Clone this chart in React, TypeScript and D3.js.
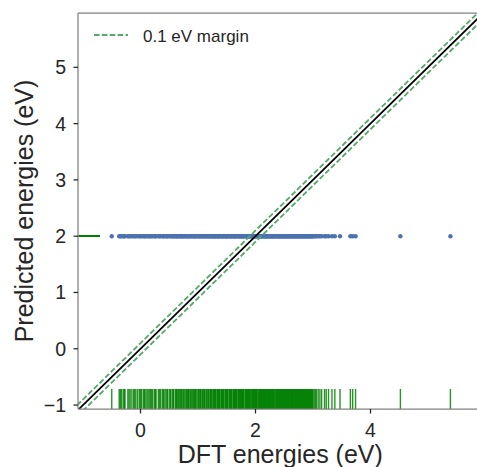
import React from "react";
import * as d3 from "d3";

// DFT energies (eV) read from the rug / scatter
const dftEnergies: number[] = [
  -0.50, -0.37, -0.35, -0.33, -0.30, -0.27, -0.22, -0.20, -0.15, -0.12, -0.08, -0.05, -0.02,
  0.02, 0.05, 0.08, 0.11, 0.15, 0.17, 0.21, 0.24, 0.27, 0.31, 0.35, 0.38, 0.41, 0.44, 0.47,
  0.50, 0.53, 0.56, 0.58, 0.61, 0.63, 0.65, 0.68, 0.70, 0.72, 0.75, 0.77, 0.80, 0.82, 0.84,
  0.87, 0.89, 0.91, 0.94, 0.96, 0.98, 1.01, 1.03, 1.05, 1.08, 1.10, 1.12, 1.15, 1.17, 1.19,
  1.21, 1.23, 1.24, 1.26, 1.28, 1.30, 1.31, 1.33, 1.35, 1.37, 1.38, 1.40, 1.42, 1.44, 1.45,
  1.47, 1.49, 1.51, 1.52, 1.54, 1.56, 1.58, 1.59, 1.61, 1.63, 1.65, 1.66, 1.68, 1.70, 1.72,
  1.73, 1.75, 1.77, 1.79, 1.80, 1.82, 1.84, 1.86, 1.87, 1.89, 1.91, 1.93, 1.94, 1.96, 1.98,
  2.00, 2.01, 2.03, 2.05, 2.07, 2.08, 2.10, 2.12, 2.14, 2.15, 2.17, 2.19, 2.21, 2.22, 2.24,
  2.26, 2.28, 2.29, 2.31, 2.33, 2.35, 2.36, 2.38, 2.40, 2.42, 2.43, 2.45, 2.47, 2.49, 2.50,
  2.52, 2.54, 2.56, 2.57, 2.59, 2.61, 2.63, 2.64, 2.66, 2.68, 2.70, 2.71, 2.73, 2.75, 2.77,
  2.78, 2.80, 2.82, 2.84, 2.85, 2.87, 2.89, 2.91, 2.92, 2.94, 2.96, 2.98, 2.99,
  1.62, 1.74, 1.85, 1.97, 2.09, 2.18, 2.27, 2.39, 2.48, 2.58, 2.69,
  0.62, 0.66, 0.71, 0.74, 0.79, 0.83, 0.86, 0.92, 0.95, 1.00, 1.04, 1.07, 1.11, 1.14, 1.18,
  1.22, 1.27, 1.29, 1.34, 1.36, 1.41, 1.43, 1.48, 1.50, 1.55, 1.57, 1.64, 1.67, 1.71, 1.76,
  1.78, 1.83, 1.88, 1.90, 1.95, 1.99, 2.02, 2.06, 2.11, 2.13, 2.16, 2.20, 2.23, 2.25, 2.30,
  2.32, 2.37, 2.41, 2.44, 2.46, 2.51, 2.53, 2.55, 2.60, 2.62, 2.65, 2.67, 2.72, 2.74, 2.76,
  2.79, 2.81, 2.83, 2.86, 2.88, 2.90, 2.93, 2.95, 2.97, 3.00,
  -0.28, -0.18, -0.10, 0.00, 0.07, 0.13, 0.19, 0.26, 0.33, 0.40, 0.46, 0.52, 0.57,
  3.02, 3.04, 3.06, 3.09, 3.12, 3.15, 3.20, 3.23, 3.27, 3.33, 3.38, 3.47, 3.65, 3.69, 3.74,
  4.52, 5.39,
];

// the model predicts one constant value for every structure
const predictedEnergy = 2;
const marginEV = 0.1;

const xTicks = [0, 2, 4];
const yTicks = [-1, 0, 1, 2, 3, 4, 5];
const xDomain: [number, number] = [-1.087, 5.948];
const yDomain: [number, number] = [-1.07, 5.965];
const legendLabel = "0.1 eV margin";
const xLabel = "DFT energies (eV)";
const yLabel = "Predicted energies (eV)";

const W = 477;
const H = 467;
const plot = { left: 78, right: 482.5, top: 13, bottom: 409 };
const FONT = "'Liberation Sans', Arial, sans-serif";
const TEXT = "#262626";
const GREEN_DASH = "#55a868";
const BLUE = "#4c72b0";

export default function App() {
  const x = d3.scaleLinear().domain(xDomain).range([plot.left, plot.right]);
  const y = d3.scaleLinear().domain(yDomain).range([plot.bottom, plot.top]);

  const lo = Math.min(xDomain[0], yDomain[0]) - 1;
  const hi = Math.max(xDomain[1], yDomain[1]) + 1;
  const line = d3
    .line<[number, number]>()
    .x((d) => x(d[0]))
    .y((d) => y(d[1]));
  const diag = (off: number) => line([[lo, lo + off], [hi, hi + off]]) || "";

  const rugH = 20;
  const rugW = 22;

  return (
    <svg
      width={W}
      height={H}
      style={{ position: "absolute", left: 0, top: 0, background: "#fff" }}
      fontFamily={FONT}
    >
      <defs>
        <clipPath id="plotclip">
          <rect x={plot.left} y={plot.top} width={plot.right - plot.left} height={plot.bottom - plot.top} />
        </clipPath>
      </defs>

      <g clipPath="url(#plotclip)">
        {/* rug on the x axis */}
        {dftEnergies.map((v, i) => (
          <line
            key={"rx" + i}
            x1={x(v)}
            x2={x(v)}
            y1={plot.bottom}
            y2={plot.bottom - rugH}
            stroke="green"
            strokeOpacity={0.85}
            strokeWidth={1.4}
          />
        ))}
        {/* rug on the y axis */}
        {dftEnergies.map((_, i) => (
          <line
            key={"ry" + i}
            x1={plot.left}
            x2={plot.left + rugW}
            y1={y(predictedEnergy)}
            y2={y(predictedEnergy)}
            stroke="green"
            strokeOpacity={0.85}
            strokeWidth={1.5}
          />
        ))}
        {/* scatter */}
        {dftEnergies.map((v, i) => (
          <circle key={"p" + i} cx={x(v)} cy={y(predictedEnergy)} r={2.2} fill={BLUE} />
        ))}
        {/* margin lines */}
        <path d={diag(marginEV)} stroke={GREEN_DASH} strokeWidth={1.8} strokeDasharray="5.5,2.4" fill="none" />
        <path d={diag(-marginEV)} stroke={GREEN_DASH} strokeWidth={1.8} strokeDasharray="5.5,2.4" fill="none" />
        {/* identity line */}
        <path d={diag(0)} stroke="#000" strokeWidth={1.8} fill="none" />
      </g>

      {/* spines */}
      <line x1={plot.left} x2={plot.left} y1={plot.top} y2={plot.bottom} stroke="#808080" strokeWidth={1.25} />
      <line x1={plot.left} x2={plot.right} y1={plot.bottom} y2={plot.bottom} stroke="#808080" strokeWidth={1.25} />
      <line x1={plot.left} x2={plot.right} y1={plot.top} y2={plot.top} stroke="#808080" strokeWidth={1.25} />

      {/* x ticks */}
      {xTicks.map((t) => (
        <g key={"xt" + t}>
          <line x1={x(t)} x2={x(t)} y1={plot.bottom} y2={plot.bottom + 4.5} stroke={TEXT} strokeWidth={1.25} />
          <text x={x(t)} y={437} textAnchor="middle" fontSize={19.5} fill={TEXT}>
            {t < 0 ? "\u2212" + Math.abs(t) : String(t)}
          </text>
        </g>
      ))}

      {/* y ticks */}
      {yTicks.map((t) => (
        <g key={"yt" + t}>
          <line x1={plot.left - 4.5} x2={plot.left} y1={y(t)} y2={y(t)} stroke={TEXT} strokeWidth={1.25} />
          <text x={66} y={y(t)} dy="0.36em" textAnchor="end" fontSize={19.5} fill={TEXT}>
            {t < 0 ? "\u2212" + Math.abs(t) : String(t)}
          </text>
        </g>
      ))}

      {/* axis labels */}
      <text x={(plot.left + plot.right) / 2} y={463} textAnchor="middle" fontSize={25} fill={TEXT}>
        {xLabel}
      </text>
      <text
        transform={`translate(33, ${(plot.top + plot.bottom) / 2}) rotate(-90)`}
        textAnchor="middle"
        fontSize={25}
        fill={TEXT}
      >
        {yLabel}
      </text>

      {/* legend */}
      <line x1={94} x2={128} y1={35} y2={35} stroke={GREEN_DASH} strokeWidth={1.8} strokeDasharray="5.5,2.4" />
      <text x={143} y={41.5} fontSize={17} fill={TEXT}>
        {legendLabel}
      </text>
    </svg>
  );
}
